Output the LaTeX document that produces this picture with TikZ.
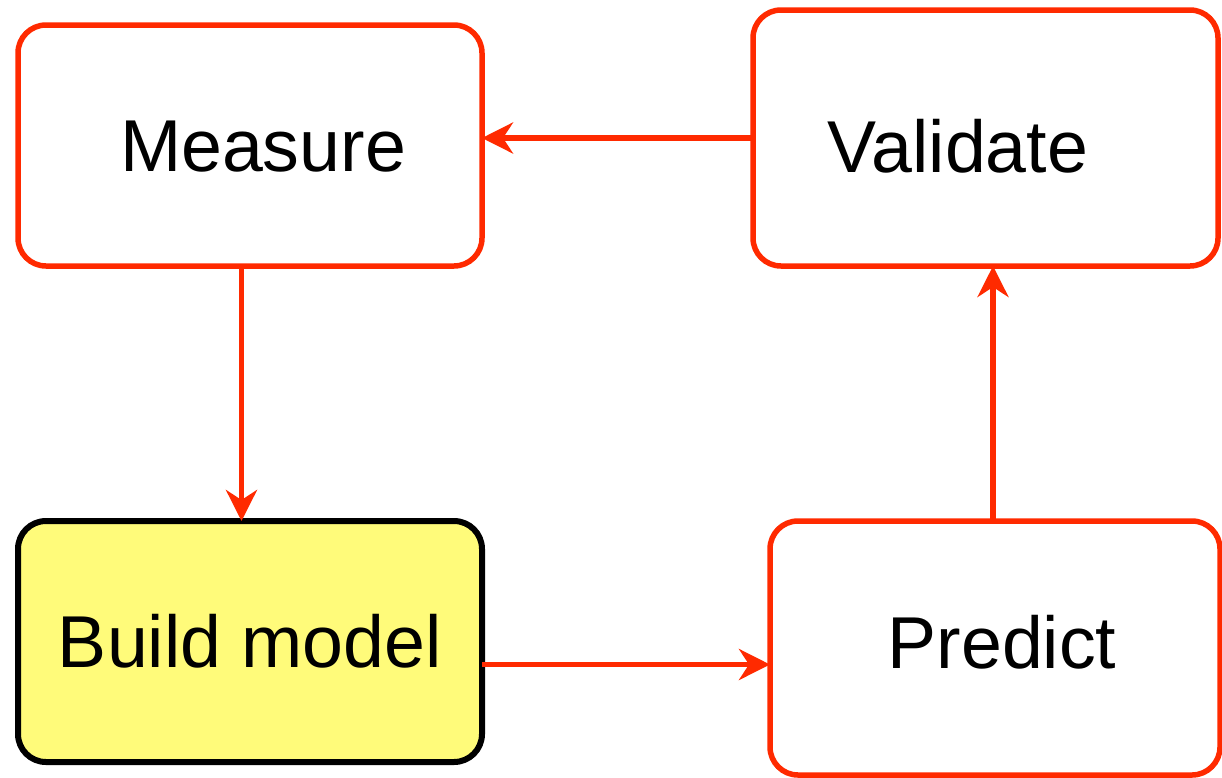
\documentclass[tikz,border=0pt]{standalone}
\usepackage{fontspec}
\setmainfont{Liberation Sans}
\usetikzlibrary{arrows.meta}
\definecolor{cff2a00}{RGB}{255,42,0}
\definecolor{cfffb7a}{RGB}{255,251,122}

\begin{document}
\begin{tikzpicture}[y=-1pt, x=1pt, inner sep=0pt, outer sep=0pt,
  stage/.style={draw=cff2a00, line width=5.5pt, rounded corners=28pt, fill=white,
    text height=52.5pt, text depth=0pt,
    font=\fontsize{73.5}{88}\selectfont},
  startstage/.style={stage, draw=black, line width=6pt, fill=cfffb7a},
  flow/.style={draw=cff2a00, line width=5.5pt, line join=miter, line cap=butt,
    -{Stealth[length=31pt, width=31pt, inset=10pt]}}]
  \useasboundingbox (0,0) rectangle (1222,777);
  \node[stage, minimum width=464pt, minimum height=241pt]
    (measure) at (250,145.5) {\hspace*{26pt}Measure};
  \node[stage, minimum width=465pt, minimum height=256pt]
    (validate) at (985.5,138) {\hspace*{-55pt}\raisebox{-8.5pt}{Validate}};
  \node[startstage, minimum width=464pt, minimum height=241pt]
    (buildmodel) at (250,641.5) {Build model};
  \node[stage, minimum width=450pt, minimum height=254pt]
    (predict) at (995,648) {\hspace*{14pt}\raisebox{5.5pt}{Predict}};
  \path[flow] (validate.west) -- (validate.west -| measure.east);
  \path[flow] ([xshift=-8.5pt]measure.south) -- ([xshift=-8.5pt]buildmodel.north);
  \path[flow] ([yshift=-23pt]buildmodel.east) -- ([yshift=-23pt]buildmodel.east -| predict.west);
  \path[flow] ([xshift=-2pt]predict.north) -- ([xshift=-2pt]predict.north |- validate.south);
\end{tikzpicture}
\end{document}
